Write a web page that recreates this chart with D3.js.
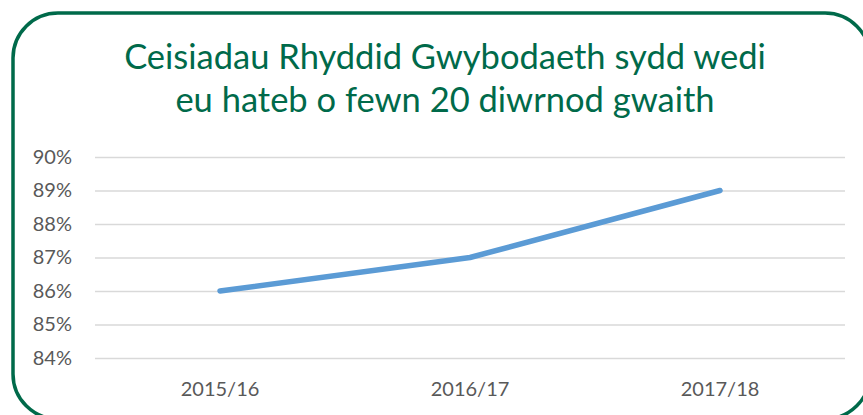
<!DOCTYPE html>
<html>
<head>
<meta charset="utf-8">
<script src="https://cdn.jsdelivr.net/npm/d3@7"></script>
<style>
  body { margin: 0; background: #fff; }
  svg { display: block; font-family: Lato, "Open Sans", sans-serif; }
</style>
</head>
<body>
<div class="chart"></div>
<script>
const years = ['2015/16', '2016/17', '2017/18'];
const answered = [0.86, 0.87, 0.89];
const yTicks = [0.84, 0.85, 0.86, 0.87, 0.88, 0.89, 0.90];
const titleLines = ['Ceisiadau Rhyddid Gwybodaeth sydd wedi', 'eu hateb o fewn 20 diwrnod gwaith'];

const width = 863, height = 415;
const green = '#006a4a';
const margin = {top: 157, right: 18, bottom: 57, left: 95};

const svg = d3.select('.chart')
    .append('svg')
    .attr('width', width)
    .attr('height', height);

// rounded frame, runs off the right and bottom edges
svg.append('rect')
    .attr('x', 13)
    .attr('y', 13)
    .attr('width', 857)
    .attr('height', 406)
    .attr('rx', 45)
    .attr('fill', 'none')
    .attr('stroke', green)
    .attr('stroke-width', 3.5);

svg.selectAll('text.title')
    .data(titleLines)
    .enter()
    .append('text')
    .attr('class', 'title')
    .attr('x', 445)
    .attr('y', (d, i) => 69 + i * 43)
    .attr('text-anchor', 'middle')
    .attr('fill', green)
    .style('font-size', '34.5px')
    .text(d => d);

const x = d3.scaleBand()
    .domain(years)
    .range([margin.left, width - margin.right]);

const y = d3.scaleLinear()
    .domain([0.84, 0.90])
    .range([height - margin.bottom, margin.top]);

// gridlines
svg.append('g')
    .attr('transform', `translate(${margin.left},0)`)
    .call(d3.axisLeft(y)
        .tickValues(yTicks)
        .tickSize(-(width - margin.left - margin.right))
        .tickFormat(''))
    .call(g => g.select('.domain').remove())
    .call(g => g.selectAll('line').attr('stroke', '#d9d9d9').attr('stroke-width', 1.3));

// y labels
svg.append('g')
    .attr('transform', `translate(72,0)`)
    .call(d3.axisLeft(y)
        .tickValues(yTicks)
        .tickSize(0)
        .tickPadding(0)
        .tickFormat(d3.format('.0%')))
    .call(g => g.select('.domain').remove())
    .call(g => g.selectAll('text')
        .attr('fill', '#595959')
        .style('font-size', '20px')
        .style('font-family', 'Lato, sans-serif'));

// x labels
svg.append('g')
    .attr('transform', `translate(0,${height - margin.bottom})`)
    .call(d3.axisBottom(x).tickSize(0).tickPadding(24))
    .call(g => g.select('.domain').remove())
    .call(g => g.selectAll('text')
        .attr('fill', '#595959')
        .style('font-size', '20px')
        .style('font-family', 'Lato, sans-serif'));

const line = d3.line()
    .x((d, i) => x(years[i]) + x.bandwidth() / 2)
    .y(d => y(d));

svg.append('path')
    .datum(answered)
    .attr('d', line)
    .attr('fill', 'none')
    .attr('stroke', '#5b9bd5')
    .attr('stroke-width', 5.5)
    .attr('stroke-linecap', 'round')
    .attr('stroke-linejoin', 'round');
</script>
</body>
</html>
